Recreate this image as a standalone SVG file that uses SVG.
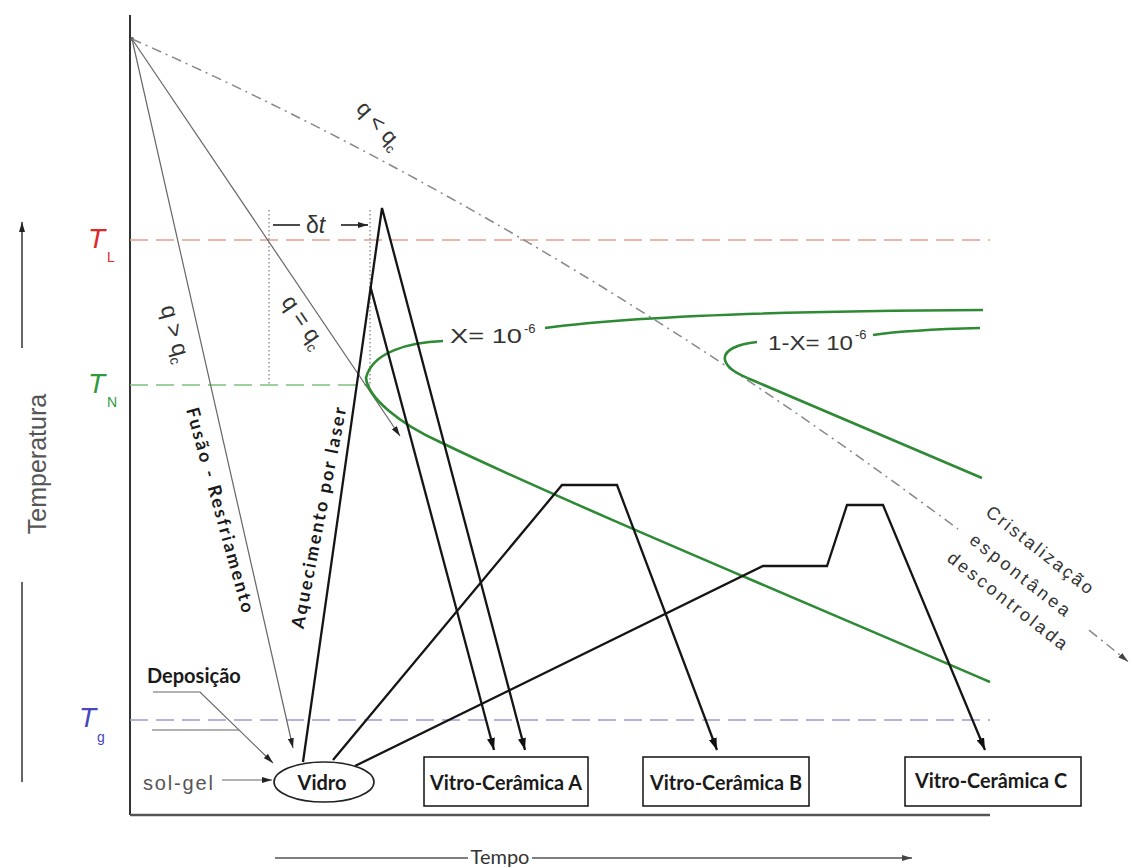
<svg xmlns="http://www.w3.org/2000/svg" width="1132" height="868" viewBox="0 0 1132 868">
<defs>
<marker id="ab" viewBox="0 0 12 8" refX="12" refY="4" markerWidth="12" markerHeight="8" markerUnits="userSpaceOnUse" orient="auto"><path d="M0,0L12,4L0,8z" fill="#111"/></marker>
<marker id="at" viewBox="0 0 10 6" refX="10" refY="3" markerWidth="10" markerHeight="6" markerUnits="userSpaceOnUse" orient="auto"><path d="M0,0L10,3L0,6z" fill="#222"/></marker>
<marker id="ad" viewBox="0 0 10 6" refX="10" refY="3" markerWidth="10" markerHeight="6" markerUnits="userSpaceOnUse" orient="auto"><path d="M0,0L10,3L0,6z" fill="#444"/></marker>
</defs>
<style>
.ax{stroke:#333;stroke-width:2;fill:none}
.blk{stroke:#151515;stroke-width:2.3;fill:none;stroke-linejoin:miter}
.thin{stroke:#666;stroke-width:1.2;fill:none}
.grn{stroke:#2e8a34;stroke-width:2.6;fill:none}
.ref{stroke-width:1.4;stroke-dasharray:18 8;fill:none}
.dd{stroke:#888;stroke-width:1.5;stroke-dasharray:10 5 2 5;fill:none}
.dot{stroke:#777;stroke-width:1.2;stroke-dasharray:1.5 2.5;fill:none}
text{font-family:"Liberation Sans",Arial,sans-serif;fill:#333}
.cal{font-family:Lato,"Open Sans",sans-serif}
.b{font-weight:bold;fill:#1a1a1a}
.box{fill:#fff;stroke:#111;stroke-width:1.5}
.red{fill:#e02828}
.green{fill:#2e9a3e}
.blue{fill:#4646c0}
.gray{fill:#555}
</style>
<rect width="1132" height="868" fill="#fff"/>

<g id="axes">
<path class="ax" d="M130,15V815"/>
<path d="M130,815H990" stroke="#555" stroke-width="2.5" fill="none"/>
<circle cx="132" cy="39" r="2" fill="#555"/>
<path d="M22,348V222" stroke="#333" stroke-width="1.5" fill="none" marker-end="url(#at)"/>
<path d="M22,582V782" stroke="#333" stroke-width="1.5" fill="none"/>
<text transform="translate(46,464) rotate(-90)" text-anchor="middle" font-size="25" class="gray">Temperatura</text>
<path d="M275,858H468M532,858H912" stroke="#555" stroke-width="1.5" fill="none" marker-end="url(#ad)"/>
<text class="cal" x="500" y="864" text-anchor="middle" font-size="20">Tempo</text>
</g>

<g id="reference-lines">
<path class="ref" stroke="#e6a090" d="M130,240H990"/>
<path class="ref" stroke="#7cc27c" d="M130,385H370"/>
<path class="ref" stroke="#9a9ad6" d="M130,720H990"/>
<text class="red" x="88" y="248" font-size="28" font-style="italic">T</text>
<text class="red" x="107" y="262" font-size="14">L</text>
<text class="green" x="88" y="393" font-size="28" font-style="italic">T</text>
<text class="green" x="107" y="407" font-size="14">N</text>
<text class="blue" x="79" y="727" font-size="28" font-style="italic">T</text>
<text class="blue" x="97" y="742" font-size="14">g</text>
</g>

<g id="delta-t">
<path class="dot" d="M269,210V385M370,210V385"/>
<path d="M300,225H273M341,225H368" stroke="#111" stroke-width="1.5" fill="none" marker-end="url(#at)"/>
<text x="306" y="233" font-size="23">δ<tspan font-style="italic">t</tspan></text>
</g>

<g id="rate-lines">
<path class="thin" d="M132,39L400,436" marker-end="url(#at)"/>
<path class="thin" d="M132,39L293,748" marker-end="url(#at)"/>
<path class="dd" d="M132,39Q545,220.8 958,529.1"/>
<path class="dd" d="M1089,630.2Q1109.5,646.4 1128,661.5" marker-end="url(#ad)"/>
<text transform="translate(374,130) rotate(48)" text-anchor="middle" font-size="22">q &lt; q<tspan font-size="13" dy="5">c</tspan></text>
<text transform="translate(303,322) rotate(55.8)" text-anchor="middle" font-size="23" dy="7">q = q<tspan font-size="14" dy="5">c</tspan></text>
<text transform="translate(175,334) rotate(74.5)" text-anchor="middle" font-size="23" dy="7">q &gt; q<tspan font-size="14" dy="5">c</tspan></text>
<text class="cal b" transform="translate(220,510) rotate(74.5)" text-anchor="middle" font-size="18" dy="6" textLength="212">Fusão - Resfriamento</text>
<text class="cal b" transform="translate(319,518) rotate(-79)" text-anchor="middle" font-size="18" dy="6" textLength="225">Aquecimento por laser</text>
</g>

<g id="crystallization-curves">
<path class="grn" d="M443,341C410,342 372,352 366,378C368,398 400,424 440,442C560,500 800,600 990,682"/>
<path class="grn" d="M545,328C620,318 750,311 983,310"/>
<text x="450" y="343" font-size="21" textLength="72" lengthAdjust="spacingAndGlyphs">X= 10</text>
<text x="524" y="333" font-size="13">-6</text>
<path class="grn" d="M757,342C738,344 723,350 725,360C727,369 740,375 752,380L982,478"/>
<path class="grn" d="M873,335C900,331 940,329 980,328"/>
<text x="768" y="350" font-size="21" textLength="85" lengthAdjust="spacingAndGlyphs">1-X= 10</text>
<text x="855" y="339" font-size="13">-6</text>
<g transform="translate(1020,575) rotate(38)" class="cal" font-size="18" text-anchor="middle">
<text x="0" y="-26" textLength="131">Cristalização</text>
<text x="0" y="6" textLength="122">espontânea</text>
<text x="6" y="34" textLength="147">descontrolada</text>
</g>
</g>

<g id="connectors">
<path class="blk" d="M303,762L382,208L525,750" marker-end="url(#ab)"/>
<path class="blk" d="M370.5,287L494,750" marker-end="url(#ab)"/>
<path class="blk" d="M333,760L562,485H617L717,750" marker-end="url(#ab)"/>
<path class="blk" d="M355,766L763,566H827L847,505H883L985,750" marker-end="url(#ab)"/>
<path class="thin" d="M153,692H200L273,763" marker-end="url(#at)"/>
<path class="thin" d="M152,730H239"/>
<path class="thin" d="M222,780H272" marker-end="url(#at)"/>
</g>

<g id="deposicao">
<text class="cal b" x="147" y="683" font-size="20">Deposição</text>
</g>
<g id="sol-gel">
<text class="gray" x="143" y="790" font-size="20" textLength="70">sol-gel</text>
</g>
<g id="vidro">
<ellipse cx="324" cy="782" rx="50" ry="20" fill="#fff" stroke="#222" stroke-width="1.6"/>
<text class="cal b" x="322" y="790" text-anchor="middle" font-size="20">Vidro</text>
</g>
<g id="vitro-ceramica-a">
<rect class="box" x="424" y="757" width="164" height="49"/>
<text class="cal b" x="506" y="790" text-anchor="middle" font-size="21" textLength="152" lengthAdjust="spacingAndGlyphs">Vitro-Cerâmica A</text>
</g>
<g id="vitro-ceramica-b">
<rect class="box" x="643" y="757" width="166" height="49"/>
<text class="cal b" x="726" y="790" text-anchor="middle" font-size="21" textLength="152" lengthAdjust="spacingAndGlyphs">Vitro-Cerâmica B</text>
</g>
<g id="vitro-ceramica-c">
<rect class="box" x="905" y="757" width="176" height="49"/>
<text class="cal b" x="991" y="788" text-anchor="middle" font-size="21" textLength="152" lengthAdjust="spacingAndGlyphs">Vitro-Cerâmica C</text>
</g>
</svg>
